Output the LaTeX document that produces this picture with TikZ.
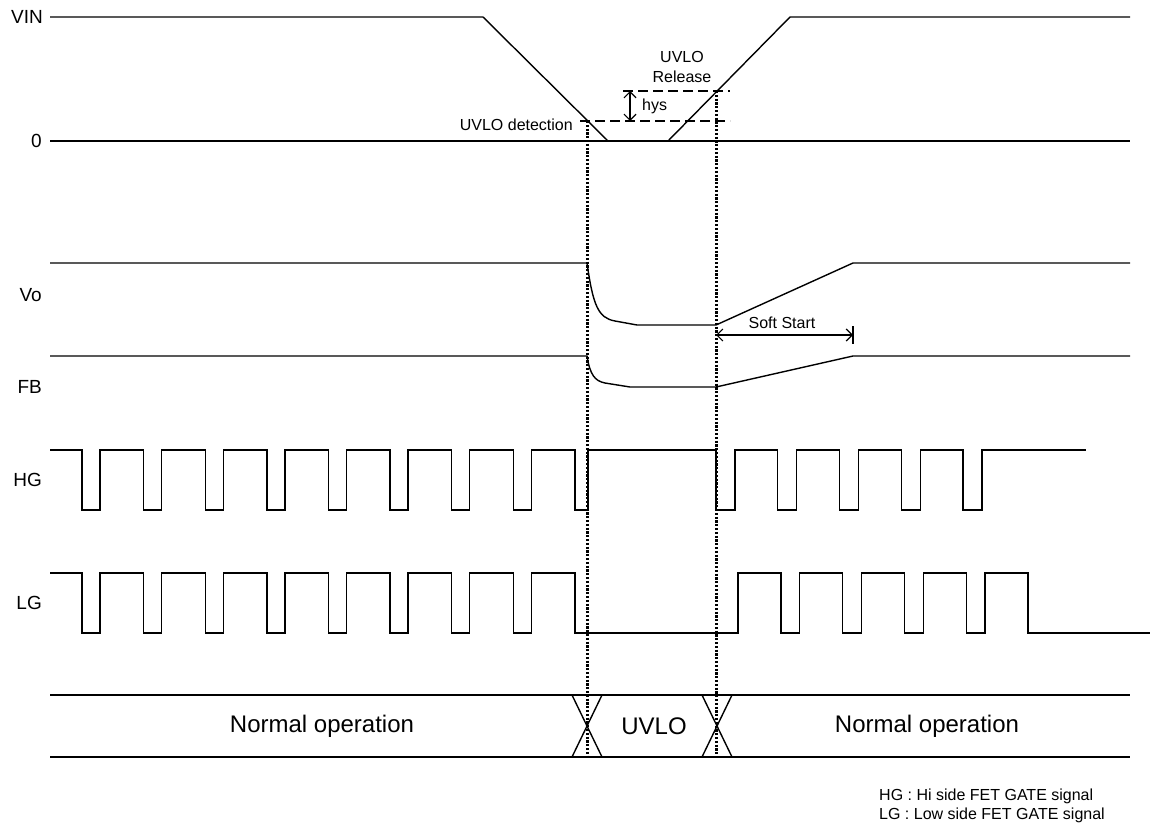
\documentclass[tikz,border=0pt]{standalone}
\usepackage{fontspec}
\setmainfont{Liberation Sans}
\usetikzlibrary{arrows.meta}
\begin{document}
\begin{tikzpicture}[x=1pt,y=-1pt,
  sig/.style={line width=1.4pt, line join=miter},
  guide/.style={line width=3pt, dash pattern=on 2.2pt off 1.6pt},
  thres/.style={line width=2.5pt, dash pattern=on 10pt off 5pt},
  dimarrow/.style={line width=1.2pt, {Straight Barb[length=6pt,width=12pt]}-{Straight Barb[length=6pt,width=12pt]}},
  axl/.style={anchor=east, font=\fontsize{19}{22}\selectfont, inner sep=0pt},
  sml/.style={font=\fontsize{16}{19}\selectfont, inner sep=0pt},
  big/.style={font=\fontsize{24}{28}\selectfont, inner sep=0pt}]
\useasboundingbox (0,0) rectangle (1153,827);

% axis labels
\node[axl] (lVIN) at (43,17) {VIN};
\node[axl] (lzero) at (42,141) {0};
\node[axl] (lVo) at (42,295) {Vo};
\node[axl] (lFB) at (42,387) {FB};
\node[axl] (lHG) at (42,480) {HG};
\node[axl] (lLG) at (42,603) {LG};

% VIN
\draw[sig] (50,141) -- (1130,141);
\draw[sig] (50,17) -- (483,17) -- (608,141);
\draw[sig] (668,141) -- (790,17) -- (1130,17);

% thresholds
\draw[thres] (580,121) -- (730,121);
\draw[thres] (623,91) -- (730,91);
\coordinate (hysT) at (630,91);
\coordinate (hysB) at (630,121);
\draw[dimarrow] (hysT) -- (hysB);
\node[sml, anchor=west] (hys) at (642,106) {hys};
\node[sml] (rel1) at (682,57) {UVLO};
\node[sml] (rel2) at (682,77) {Release};
\node[sml, anchor=east] (det) at (573,125) {UVLO detection};

% Vo
\draw[sig] (50,263) -- (587,263) .. controls (593,305) and (598,318) .. (615,321) -- (637,325) -- (716,325) -- (853,263) -- (1130,263);
% FB
\draw[sig] (50,356) -- (587,356) .. controls (590,375) and (595,381) .. (605,383) -- (630,387) -- (716,387) -- (853,356) -- (1130,356);

% soft start
\coordinate (ssL) at (716,335);
\coordinate (ssR) at (853,335);
\draw[dimarrow] (ssL) -- (ssR);
\draw[sig] (853,326) -- (853,344);
\node[sml] (ss) at (782,323) {Soft Start};

% HG
\draw[sig] (50,450) foreach \i in {0,...,7} {
    -- ({82+61.6*\i},450) -- ({82+61.6*\i},510) -- ({100+61.6*\i},510) -- ({100+61.6*\i},450) }
  -- (575,450) -- (575,510) -- (588,510) -- (588,450)
  foreach \i in {0,...,4} {
    -- ({716+61.75*\i},450) -- ({716+61.75*\i},510) -- ({735+61.75*\i},510) -- ({735+61.75*\i},450) }
  -- (1086,450);

% LG
\draw[sig] (50,573) foreach \i in {0,...,7} {
    -- ({82+61.6*\i},573) -- ({82+61.6*\i},633) -- ({100+61.6*\i},633) -- ({100+61.6*\i},573) }
  -- (575,573) -- (575,633)
  foreach \i in {0,...,4} {
    -- ({738+61.75*\i},633) -- ({738+61.75*\i},573) -- ({781+61.75*\i},573) -- ({781+61.75*\i},633) }
  -- (1150,633);

% guides
\draw[guide] (587,121) -- (587,757);
\draw[guide] (716,91) -- (716,757);

% state bar
\draw[sig] (50,695) -- (1130,695);
\draw[sig] (50,757) -- (1130,757);
\draw[sig] (572,695) -- (602,757);
\draw[sig] (602,695) -- (572,757);
\draw[sig] (702,695) -- (732,757);
\draw[sig] (732,695) -- (702,757);
\node[big] (st1) at (322,726) {Normal operation};
\node[big] (st2) at (654,726) {UVLO};
\node[big] (st3) at (927,726) {Normal operation};

% legend
\node[sml, anchor=west] (leg1) at (879,796) {HG : Hi side FET GATE signal};
\node[sml, anchor=west] (leg2) at (879,815) {LG : Low side FET GATE signal};
\end{tikzpicture}
\end{document}
